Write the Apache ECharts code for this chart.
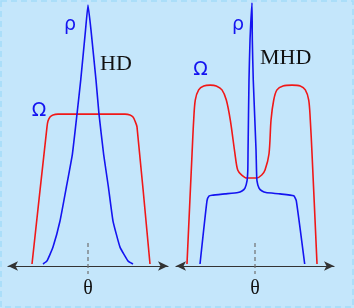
<!DOCTYPE html>
<html><head><meta charset="utf-8">
<script src="https://cdn.jsdelivr.net/npm/echarts@6/dist/echarts.min.js"></script>
<style>html,body{margin:0;padding:0;background:#c4e6fb}#c{width:354px;height:308px}</style>
</head><body><div id="c"></div>
<script>
// theta normalised to [-1,1] across each axis; heights in % of panel height
const hdTheta   = [-0.70,-0.5125,-0.50,-0.475,-0.4375,-0.375,0.4625,0.525,0.5625,0.5875,0.6125,0.775];
const hdOmega   = [0.75,52.3,54.5,56.0,56.8,57.1,57.1,56.8,56.0,54.5,52.3,0.75];
const hdRhoTheta= [-0.5625,-0.5125,-0.4375,-0.35,-0.27,-0.195,-0.1375,-0.091,-0.031,0,0.0375,0.10,0.1375,0.195,0.255,0.3125,0.40,0.50,0.5625];
const hdRho     = [0.75,1.9,7.1,16.9,29.7,42.1,57.1,69.9,88.7,98.1,88.7,69.9,57.1,42.1,29.7,16.9,7.1,1.9,0.75];
const mhdOmTheta= [-0.861,-0.797,-0.776,-0.756,-0.713,-0.649,-0.566,-0.490,-0.418,-0.363,-0.313,-0.253,-0.219,-0.168,-0.105,0.022,0.085,0.127,0.177,0.203,0.237,0.278,0.354,0.468,0.573,0.637,0.680,0.700,0.722,0.785];
const mhdOmega  = [0.75,42.1,54.9,62.4,66.2,67.7,68.0,67.7,66.2,62.4,54.9,42.1,36.1,34.2,33.1,33.1,34.2,36.1,42.1,54.9,62.4,66.2,67.7,68.0,67.7,66.2,62.4,54.9,42.1,0.75];
const mhdRhoTheta=[-0.696,-0.608,-0.582,-0.544,-0.38,-0.215,-0.165,-0.127,-0.101,-0.091,-0.088,-0.076,-0.063,-0.038,-0.034,-0.022,0.013,0.019,0.025,0.051,0.089,0.139,0.316,0.49,0.523,0.629];
const mhdRho    = [0.75,24.5,26.3,26.6,27.1,27.6,28.2,29.3,32.0,36.1,43.6,69.9,85.0,98.9,85.0,69.9,43.6,36.1,32.0,29.3,28.2,27.6,27.1,26.4,24.5,0.75];
const centreTheta = [0,0];
const centreLine  = [8.6,-3.0];
const axisLabels = ['θ','θ'];

const zip=(a,b)=>a.map((v,i)=>[v,b[i]]);
const RED='#f01818', BLUE='#1414f0';
function xa(gi){return {gridIndex:gi,type:'value',min:-1,max:1,interval:1,
  axisLine:{show:true,onZero:true,symbol:['arrow','arrow'],symbolSize:[7,10],lineStyle:{color:'#333',width:1.2}},
  axisTick:{show:false},splitLine:{show:false},
  axisLabel:{formatter:v=>v===0?axisLabels[gi]:'',fontFamily:'Liberation Serif',fontSize:20,color:'#111',margin:13}};}
function ya(gi){return {gridIndex:gi,type:'value',min:0,max:100,show:false};}
function ln(gi,data,color,extra){return Object.assign({type:'line',xAxisIndex:gi,yAxisIndex:gi,data,symbol:'none',
  lineStyle:{color,width:1.6},silent:true,animation:false},extra||{});}
const chart=echarts.init(document.getElementById('c'),null,{renderer:'canvas'});
chart.setOption({
  backgroundColor:'#c4e6fb',
  animation:false,
  grid:[{left:8,width:160,top:0,bottom:42},{left:176,width:158,top:0,bottom:42}],
  xAxis:[xa(0),xa(1)],
  yAxis:[ya(0),ya(1)],
  series:[
    ln(0,zip(hdTheta,hdOmega),RED,{smooth:0.25}),
    ln(0,zip(hdRhoTheta,hdRho),BLUE,{smooth:0.12}),
    ln(0,zip(centreTheta,centreLine),'#777',{clip:false,lineStyle:{color:'#707070',width:1.2,type:[4,3]}}),
    ln(1,zip(mhdOmTheta,mhdOmega),RED,{smooth:0.3}),
    ln(1,zip(mhdRhoTheta,mhdRho),BLUE,{smooth:0.15}),
    ln(1,zip(centreTheta,centreLine),'#777',{clip:false,lineStyle:{color:'#707070',width:1.2,type:[4,3]}})
  ],
  graphic:[
    {type:'rect',shape:{x:1,y:1,width:352,height:306},style:{fill:null,stroke:'#a3dbf9',lineWidth:1.5,lineDash:[6,4]},silent:true},
    {type:'text',x:70,y:25,style:{text:'ρ',font:'19px "DejaVu Sans"',fill:'#1414f0',align:'center',verticalAlign:'middle'}},
    {type:'text',x:39,y:111,style:{text:'Ω',font:'19px "DejaVu Sans"',fill:'#1414f0',align:'center',verticalAlign:'middle'}},
    {type:'text',x:100,y:64,style:{text:'HD',font:'22px "Liberation Serif"',fill:'#111',align:'left',verticalAlign:'middle'}},
    {type:'text',x:238,y:25,style:{text:'ρ',font:'19px "DejaVu Sans"',fill:'#1414f0',align:'center',verticalAlign:'middle'}},
    {type:'text',x:200.5,y:70,style:{text:'Ω',font:'19px "DejaVu Sans"',fill:'#1414f0',align:'center',verticalAlign:'middle'}},
    {type:'text',x:260,y:58.5,style:{text:'MHD',font:'22px "Liberation Serif"',fill:'#111',align:'left',verticalAlign:'middle'}}
  ]
});
</script></body></html>
